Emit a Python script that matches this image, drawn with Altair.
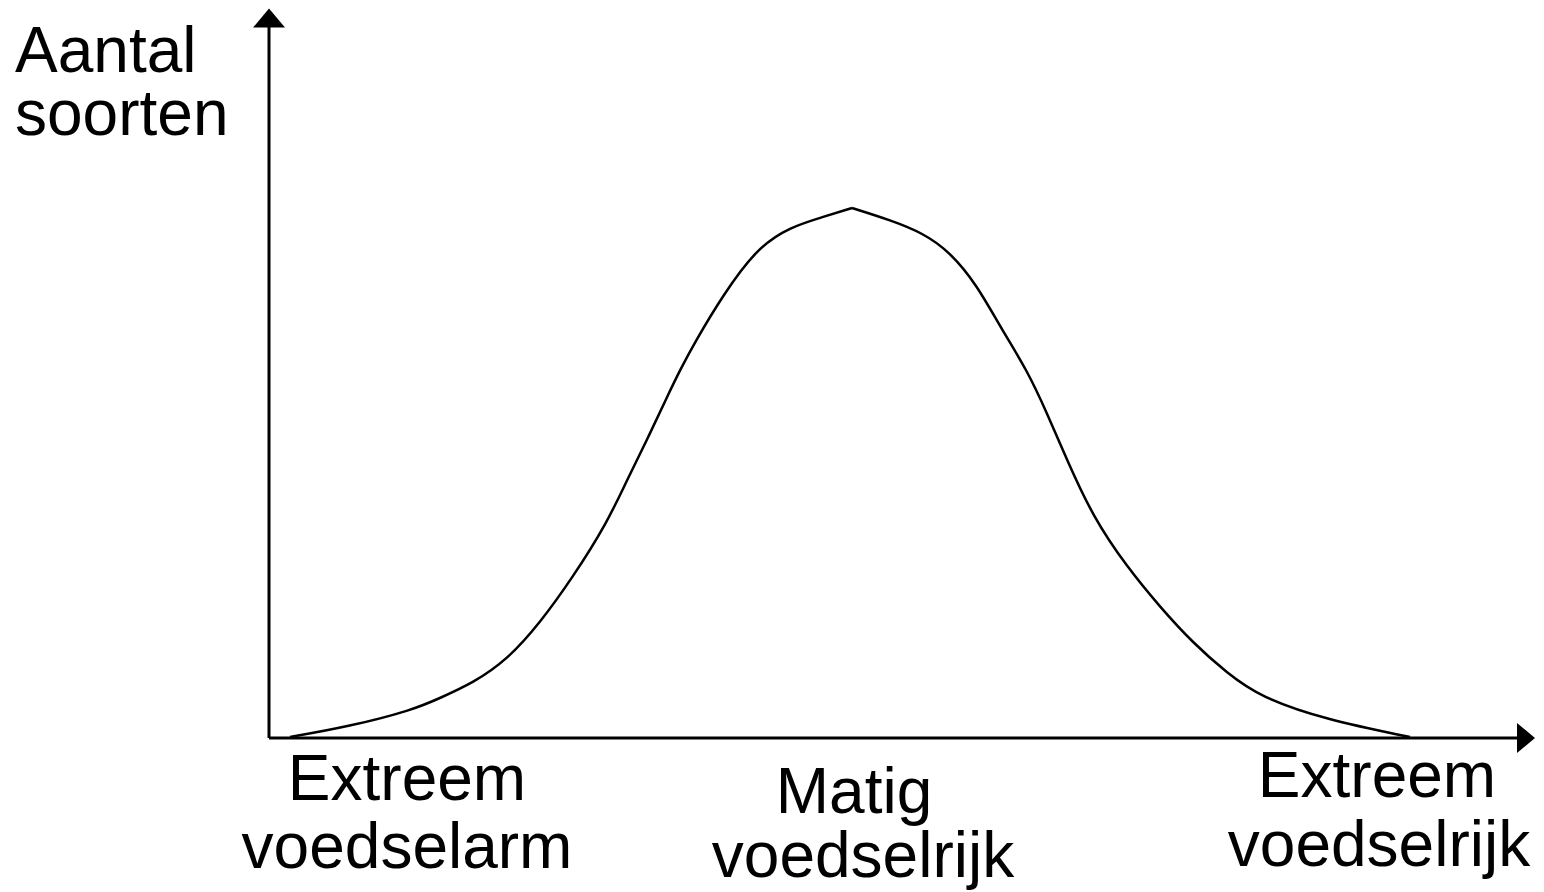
import altair as alt
import pandas as pd

# Curve (x: position along the nutrient axis, y: number of species)
left_x = [21, 78, 144, 171, 204, 238, 271, 304, 338, 358, 378, 398, 411, 426, 454, 488, 521, 554, 583]
left_y = [1, 11, 28, 40, 55, 78, 115, 161, 215, 258, 298, 341, 368, 396, 443, 490, 511, 521, 530]
right_x = [583, 621, 654, 681, 708, 733, 758, 778, 798, 824, 858, 891, 924, 958, 991, 1058, 1141]
right_y = [530, 518, 505, 486, 453, 408, 368, 325, 278, 221, 171, 131, 95, 65, 41, 18, 1]

# Axis extents
X_MAX = 1267
Y_MAX = 728
x_axis_end = 1248
y_axis_end = 711
x_arrow = [1257]
y_arrow = [720]

# Text
ylabel_lines = ["Aantal", "soorten"]
ylabel_x = [-254, -254]
ylabel_y = [666, 603]

cat_lines = ["Extreem", "voedselarm", "Matig", "voedselrijk", "Extreem", "voedselrijk"]
cat_x = [138, 138, 585, 594, 1108, 1110]
cat_y = [-62, -130, -75, -139, -59, -128]

FONT = "Liberation Sans"

curve = pd.DataFrame(
    {"x": left_x + right_x, "y": left_y + right_y,
     "side": ["L"] * len(left_x) + ["R"] * len(right_x)}
)
axes_df = pd.DataFrame({"x": [0, 0], "y": [0, 0], "x2": [0, x_axis_end], "y2": [y_axis_end, 0]})
ylab = pd.DataFrame({"t": ylabel_lines, "x": ylabel_x, "y": ylabel_y})
cats = pd.DataFrame({"t": cat_lines, "x": cat_x, "y": cat_y})

xs = alt.Scale(domain=[0, X_MAX], nice=False, zero=False)
ys = alt.Scale(domain=[0, Y_MAX], nice=False, zero=False)

line = alt.Chart(curve).mark_line(color="black", strokeWidth=2.5, interpolate="basis").encode(
    x=alt.X("x:Q", scale=xs, axis=None),
    y=alt.Y("y:Q", scale=ys, axis=None),
    detail="side:N",
    order="x:Q",
)

axes = alt.Chart(axes_df).mark_rule(color="black", strokeWidth=3).encode(
    x=alt.X("x:Q", scale=xs, axis=None),
    x2="x2:Q",
    y=alt.Y("y:Q", scale=ys, axis=None),
    y2="y2:Q",
)

up = alt.Chart(pd.DataFrame({"x": [0], "y": y_arrow})).mark_point(
    shape="M 0 -0.6 L 1 0.6 L -1 0.6 Z", size=1024, filled=True, color="black", opacity=1
).encode(x=alt.X("x:Q", scale=xs, axis=None), y=alt.Y("y:Q", scale=ys, axis=None))

right = alt.Chart(pd.DataFrame({"x": x_arrow, "y": [0]})).mark_point(
    shape="M 0.6 0 L -0.6 -1 L -0.6 1 Z", size=900, filled=True, color="black", opacity=1
).encode(x=alt.X("x:Q", scale=xs, axis=None), y=alt.Y("y:Q", scale=ys, axis=None))

ytext = alt.Chart(ylab).mark_text(
    align="left", baseline="alphabetic", font=FONT, fontSize=64, color="black"
).encode(x=alt.X("x:Q", scale=xs, axis=None), y=alt.Y("y:Q", scale=ys, axis=None), text="t:N")

ctext = alt.Chart(cats).mark_text(
    align="center", baseline="alphabetic", font=FONT, fontSize=64, color="black"
).encode(x=alt.X("x:Q", scale=xs, axis=None), y=alt.Y("y:Q", scale=ys, axis=None), text="t:N")

chart = (
    alt.layer(axes, line, up, right, ytext, ctext)
    .properties(
        width=X_MAX,
        height=Y_MAX,
        autosize=alt.AutoSizeParams(type="none"),
        padding={"left": 261, "top": 2, "right": 0, "bottom": 154},
        background="white",
    )
    .configure_view(stroke=None)
)

chart.save("out.html", embed_options={"renderer": "svg", "actions": False})
